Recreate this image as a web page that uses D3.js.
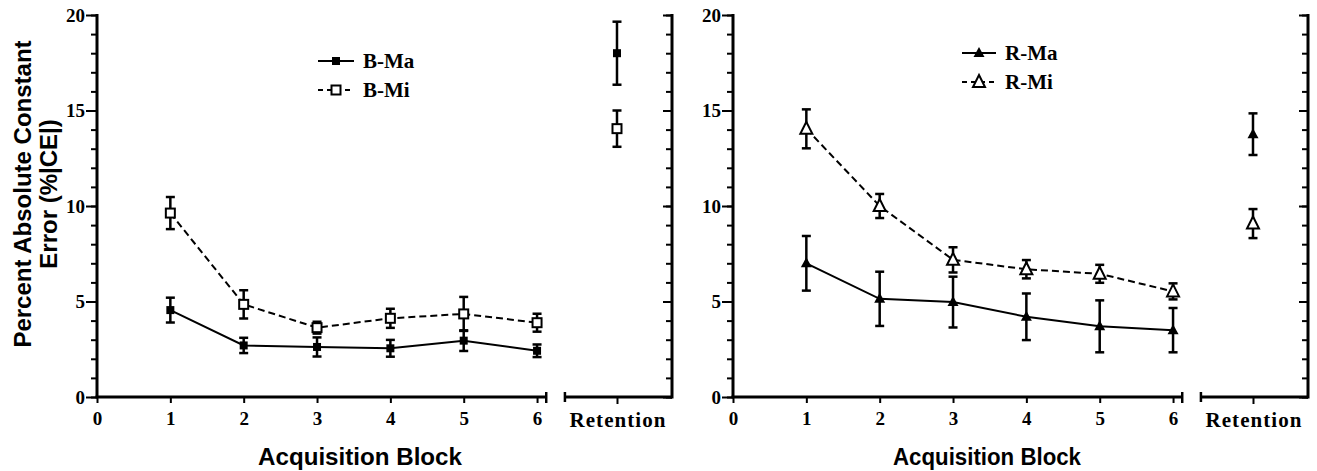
<!DOCTYPE html>
<html>
<head>
<meta charset="utf-8">
<script src="https://cdn.jsdelivr.net/npm/d3@7"></script>
<style>
  html, body { margin: 0; padding: 0; background: #fff; }
  svg { display: block; }
  .tick text { font-family: "Liberation Serif", "Times New Roman", serif; font-weight: bold; font-size: 19px; fill: #000; }
</style>
</head>
<body>
<div id="chart"></div>
<script>
// ---- data ----
const blocks = [1, 2, 3, 4, 5, 6];
const retentionPos = 7.09;

const bMaMean = [4.55, 2.7, 2.62, 2.55, 2.95, 2.42];
const bMaErr  = [0.65, 0.4, 0.5, 0.44, 0.54, 0.33];
const bMaRet  = [18.0, 1.65];

const bMiMean = [9.63, 4.85, 3.63, 4.12, 4.35, 3.89];
const bMiErr  = [0.84, 0.74, 0.31, 0.5, 0.89, 0.47];
const bMiRet  = [14.05, 0.95];

const rMaMean = [7.0, 5.14, 4.97, 4.2, 3.7, 3.5];
const rMaErr  = [1.43, 1.42, 1.33, 1.22, 1.36, 1.16];
const rMaRet  = [13.76, 1.09];

const rMiMean = [14.04, 10.0, 7.18, 6.69, 6.45, 5.53];
const rMiErr  = [1.02, 0.63, 0.66, 0.48, 0.47, 0.42];
const rMiRet  = [9.08, 0.76];

const yMajor = [0, 5, 10, 15, 20];
const yMinor = d3.range(0, 21);
const xTicks = [0, 1, 2, 3, 4, 5, 6];

const W = 1317, H = 471;
const svg = d3.select('#chart').append('svg')
  .attr('width', W).attr('height', H)
  .attr('viewBox', `0 0 ${W} ${H}`);

const y = d3.scaleLinear().domain([0, 20]).range([397, 15]);

const serif = '"Liberation Serif", "Times New Roman", serif';
const sans = '"Liberation Sans", Arial, sans-serif';

function marker(g, shape, cx, cy) {
  if (shape === 'fsq') {
    g.append('rect').attr('x', cx - 4).attr('y', cy - 4).attr('width', 8).attr('height', 8).attr('fill', '#000');
  } else if (shape === 'osq') {
    g.append('rect').attr('x', cx - 4.5).attr('y', cy - 4.5).attr('width', 9).attr('height', 9)
      .attr('fill', '#fff').attr('stroke', '#000').attr('stroke-width', 2);
  } else if (shape === 'ftri') {
    g.append('path').attr('d', `M${cx},${cy - 6}L${cx + 5.5},${cy + 4}L${cx - 5.5},${cy + 4}Z`).attr('fill', '#000');
  } else {
    g.append('path').attr('d', `M${cx},${cy - 7}L${cx + 6},${cy + 5}L${cx - 6},${cy + 5}Z`)
      .attr('fill', '#fff').attr('stroke', '#000').attr('stroke-width', 2);
  }
}

function panel({ x0, series, legendX, legendY, yLabel, titleX, titleLen }) {
  const x = d3.scaleLinear().domain([0, 7.84]).range([x0, x0 + 575]);
  const g = svg.append('g');

  // y axis (left)
  const yMin = g.append('g').attr('transform', `translate(${x(0)},0)`)
    .call(d3.axisLeft(y).tickValues(yMinor).tickSize(6).tickFormat(''));
  const yMaj = g.append('g').attr('transform', `translate(${x(0)},0)`)
    .call(d3.axisLeft(y).tickValues(yMajor).tickSize(11).tickPadding(1));
  [yMin, yMaj].forEach((a) => {
    a.select('.domain').remove();
    a.selectAll('line').attr('stroke', '#000').attr('stroke-width', 2);
  });
  yMaj.selectAll('text').attr('dy', '0.34em');
  g.append('line').attr('x1', x(0)).attr('x2', x(0)).attr('y1', y(20) - 1).attr('y2', y(0))
    .attr('stroke', '#000').attr('stroke-width', 3);

  // right axis for retention
  const xR = x(7.84);
  const rMin = g.append('g').attr('transform', `translate(${xR},0)`)
    .call(d3.axisLeft(y).tickValues(yMinor).tickSize(6).tickFormat(''));
  const rMaj = g.append('g').attr('transform', `translate(${xR},0)`)
    .call(d3.axisLeft(y).tickValues(yMajor).tickSize(9).tickFormat(''));
  [rMin, rMaj].forEach((a) => {
    a.select('.domain').remove();
    a.selectAll('line').attr('stroke', '#000').attr('stroke-width', 2);
  });
  g.append('line').attr('x1', xR).attr('x2', xR).attr('y1', y(20) - 1).attr('y2', y(0) + 1.5)
    .attr('stroke', '#000').attr('stroke-width', 3);

  // x axis (acquisition)
  const xa = g.append('g').attr('transform', `translate(0,${y(0)})`)
    .call(d3.axisBottom(x).tickValues(xTicks).tickSize(6).tickPadding(8).tickFormat(d3.format('d')));
  xa.select('.domain').remove();
  xa.selectAll('line').attr('stroke', '#000').attr('stroke-width', 2);
  xa.selectAll('text').attr('dy', '0.72em');
  const xEnd = x(6.125);
  g.append('line').attr('x1', x(0) - 1.5).attr('x2', xEnd).attr('y1', y(0)).attr('y2', y(0))
    .attr('stroke', '#000').attr('stroke-width', 3);
  g.append('line').attr('x1', xEnd).attr('x2', xEnd).attr('y1', y(0) - 5).attr('y2', y(0) + 6)
    .attr('stroke', '#000').attr('stroke-width', 2.5);

  // retention axis segment
  const xs = x(6.38);
  const ra = g.append('g').attr('transform', `translate(0,${y(0)})`)
    .call(d3.axisBottom(x).tickValues([retentionPos]).tickSize(7).tickPadding(8).tickFormat(() => 'Retention'));
  ra.select('.domain').remove();
  ra.selectAll('line').attr('stroke', '#000').attr('stroke-width', 2);
  ra.selectAll('text').attr('dy', '0.72em').style('font-size', '21px').attr('textLength', 96);
  g.append('line').attr('x1', xs).attr('x2', xR).attr('y1', y(0)).attr('y2', y(0))
    .attr('stroke', '#000').attr('stroke-width', 3);
  g.append('line').attr('x1', xs).attr('x2', xs).attr('y1', y(0) - 5).attr('y2', y(0) + 5)
    .attr('stroke', '#000').attr('stroke-width', 2.5);

  // series
  const line = d3.line().x((d) => x(d.b)).y((d) => y(d.m));
  series.forEach((s) => {
    const pts = blocks.map((b, i) => ({ b, m: s.mean[i], e: s.err[i] }));
    g.append('path').datum(pts).attr('d', line).attr('fill', 'none')
      .attr('stroke', '#000').attr('stroke-width', 2)
      .attr('stroke-dasharray', s.dashed ? '7,4' : null);
  });
  series.forEach((s) => {
    const pts = blocks.map((b, i) => ({ b, m: s.mean[i], e: s.err[i] }))
      .concat([{ b: retentionPos, m: s.ret[0], e: s.ret[1] }]);
    const eb = g.append('g');
    pts.forEach((d) => {
      const cx = x(d.b);
      eb.append('line').attr('x1', cx).attr('x2', cx).attr('y1', y(d.m + d.e)).attr('y2', y(d.m - d.e))
        .attr('stroke', '#000').attr('stroke-width', 2.5);
      [d.m + d.e, d.m - d.e].forEach((v) => {
        eb.append('line').attr('x1', cx - 4.5).attr('x2', cx + 4.5).attr('y1', y(v)).attr('y2', y(v))
          .attr('stroke', '#000').attr('stroke-width', 2.5);
      });
    });
    pts.forEach((d) => marker(eb, s.shape, x(d.b), y(d.m)));
  });

  // legend
  series.forEach((s, i) => {
    const ly = legendY[i];
    const lg = g.append('g');
    lg.append('line').attr('x1', legendX[0]).attr('x2', legendX[1]).attr('y1', ly).attr('y2', ly)
      .attr('stroke', '#000').attr('stroke-width', 2)
      .attr('stroke-dasharray', s.dashed ? '5,4' : null);
    marker(lg, s.shape, (legendX[0] + legendX[1]) / 2, ly);
    lg.append('text').attr('x', legendX[1] + 9).attr('y', ly + 7)
      .attr('font-family', serif).attr('font-weight', 'bold').attr('font-size', 21)
      .text(s.name);
  });

  // x title
  g.append('text').attr('x', titleX).attr('y', 465).attr('text-anchor', 'middle')
    .attr('font-family', sans).attr('font-weight', 'bold').attr('font-size', 23)
    .attr('textLength', titleLen).attr('lengthAdjust', 'spacingAndGlyphs')
    .text('Acquisition Block');

  if (yLabel) {
    const t = g.append('text').attr('transform', 'translate(0,194) rotate(-90)')
      .attr('text-anchor', 'middle').attr('font-family', sans).attr('font-weight', 'bold').attr('font-size', 24);
    t.append('tspan').attr('x', 0).attr('y', 31).text('Percent Absolute Constant');
    t.append('tspan').attr('x', 0).attr('y', 57).text('Error (%|CE|)');
  }
}

panel({
  x0: 97,
  series: [
    { name: 'B-Ma', mean: bMaMean, err: bMaErr, ret: bMaRet, shape: 'fsq', dashed: false },
    { name: 'B-Mi', mean: bMiMean, err: bMiErr, ret: bMiRet, shape: 'osq', dashed: true }
  ],
  legendX: [318, 354],
  legendY: [61, 90],
  yLabel: true,
  titleX: 360,
  titleLen: 204
});

panel({
  x0: 733,
  series: [
    { name: 'R-Ma', mean: rMaMean, err: rMaErr, ret: rMaRet, shape: 'ftri', dashed: false },
    { name: 'R-Mi', mean: rMiMean, err: rMiErr, ret: rMiRet, shape: 'otri', dashed: true }
  ],
  legendX: [962, 996],
  legendY: [53, 82],
  yLabel: false,
  titleX: 987,
  titleLen: 188
});
</script>
</body>
</html>
